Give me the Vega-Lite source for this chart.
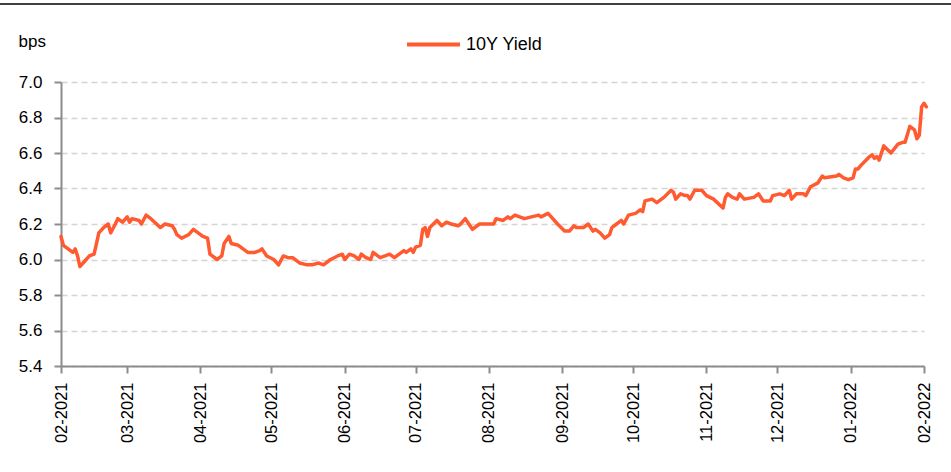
{
  "$schema": "https://vega.github.io/schema/vega-lite/v6.json",
  "autosize": {"type": "none"},
  "padding": {"left": 61, "top": 82, "right": 27, "bottom": 106},
  "width": 863,
  "height": 284,
  "background": "white",
  "config": {
    "view": {"stroke": null},
    "font": "'Liberation Sans', Arial, sans-serif",
    "axis": {"labelFont": "'Liberation Sans', Arial, sans-serif", "titleFont": "'Liberation Sans', Arial, sans-serif"},
    "legend": {"labelFont": "'Liberation Sans', Arial, sans-serif"}
  },
  "data": {"values": [
    {"date": "2021-02-01", "v": 6.13, "s": "10Y Yield"},
    {"date": "2021-02-02", "v": 6.08, "s": "10Y Yield"},
    {"date": "2021-02-03", "v": 6.07, "s": "10Y Yield"},
    {"date": "2021-02-06", "v": 6.04, "s": "10Y Yield"},
    {"date": "2021-02-07", "v": 6.06, "s": "10Y Yield"},
    {"date": "2021-02-08", "v": 6.02, "s": "10Y Yield"},
    {"date": "2021-02-09", "v": 5.96, "s": "10Y Yield"},
    {"date": "2021-02-11", "v": 5.99, "s": "10Y Yield"},
    {"date": "2021-02-13", "v": 6.02, "s": "10Y Yield"},
    {"date": "2021-02-15", "v": 6.03, "s": "10Y Yield"},
    {"date": "2021-02-16", "v": 6.09, "s": "10Y Yield"},
    {"date": "2021-02-17", "v": 6.15, "s": "10Y Yield"},
    {"date": "2021-02-19", "v": 6.18, "s": "10Y Yield"},
    {"date": "2021-02-21", "v": 6.20, "s": "10Y Yield"},
    {"date": "2021-02-22", "v": 6.15, "s": "10Y Yield"},
    {"date": "2021-02-24", "v": 6.20, "s": "10Y Yield"},
    {"date": "2021-02-25", "v": 6.23, "s": "10Y Yield"},
    {"date": "2021-02-27", "v": 6.21, "s": "10Y Yield"},
    {"date": "2021-03-01", "v": 6.24, "s": "10Y Yield"},
    {"date": "2021-03-02", "v": 6.21, "s": "10Y Yield"},
    {"date": "2021-03-03", "v": 6.23, "s": "10Y Yield"},
    {"date": "2021-03-06", "v": 6.22, "s": "10Y Yield"},
    {"date": "2021-03-07", "v": 6.20, "s": "10Y Yield"},
    {"date": "2021-03-09", "v": 6.25, "s": "10Y Yield"},
    {"date": "2021-03-11", "v": 6.23, "s": "10Y Yield"},
    {"date": "2021-03-15", "v": 6.18, "s": "10Y Yield"},
    {"date": "2021-03-17", "v": 6.20, "s": "10Y Yield"},
    {"date": "2021-03-20", "v": 6.19, "s": "10Y Yield"},
    {"date": "2021-03-21", "v": 6.17, "s": "10Y Yield"},
    {"date": "2021-03-22", "v": 6.14, "s": "10Y Yield"},
    {"date": "2021-03-24", "v": 6.12, "s": "10Y Yield"},
    {"date": "2021-03-27", "v": 6.14, "s": "10Y Yield"},
    {"date": "2021-03-29", "v": 6.17, "s": "10Y Yield"},
    {"date": "2021-03-31", "v": 6.15, "s": "10Y Yield"},
    {"date": "2021-04-02", "v": 6.13, "s": "10Y Yield"},
    {"date": "2021-04-04", "v": 6.12, "s": "10Y Yield"},
    {"date": "2021-04-05", "v": 6.03, "s": "10Y Yield"},
    {"date": "2021-04-08", "v": 6.00, "s": "10Y Yield"},
    {"date": "2021-04-10", "v": 6.02, "s": "10Y Yield"},
    {"date": "2021-04-11", "v": 6.09, "s": "10Y Yield"},
    {"date": "2021-04-13", "v": 6.13, "s": "10Y Yield"},
    {"date": "2021-04-14", "v": 6.09, "s": "10Y Yield"},
    {"date": "2021-04-17", "v": 6.08, "s": "10Y Yield"},
    {"date": "2021-04-21", "v": 6.04, "s": "10Y Yield"},
    {"date": "2021-04-24", "v": 6.04, "s": "10Y Yield"},
    {"date": "2021-04-26", "v": 6.05, "s": "10Y Yield"},
    {"date": "2021-04-27", "v": 6.06, "s": "10Y Yield"},
    {"date": "2021-04-29", "v": 6.02, "s": "10Y Yield"},
    {"date": "2021-05-02", "v": 6.00, "s": "10Y Yield"},
    {"date": "2021-05-04", "v": 5.97, "s": "10Y Yield"},
    {"date": "2021-05-06", "v": 6.02, "s": "10Y Yield"},
    {"date": "2021-05-08", "v": 6.01, "s": "10Y Yield"},
    {"date": "2021-05-10", "v": 6.01, "s": "10Y Yield"},
    {"date": "2021-05-13", "v": 5.98, "s": "10Y Yield"},
    {"date": "2021-05-16", "v": 5.97, "s": "10Y Yield"},
    {"date": "2021-05-18", "v": 5.97, "s": "10Y Yield"},
    {"date": "2021-05-21", "v": 5.98, "s": "10Y Yield"},
    {"date": "2021-05-23", "v": 5.97, "s": "10Y Yield"},
    {"date": "2021-05-26", "v": 6.00, "s": "10Y Yield"},
    {"date": "2021-05-29", "v": 6.02, "s": "10Y Yield"},
    {"date": "2021-05-31", "v": 6.03, "s": "10Y Yield"},
    {"date": "2021-06-01", "v": 6.00, "s": "10Y Yield"},
    {"date": "2021-06-03", "v": 6.03, "s": "10Y Yield"},
    {"date": "2021-06-05", "v": 6.02, "s": "10Y Yield"},
    {"date": "2021-06-07", "v": 6.00, "s": "10Y Yield"},
    {"date": "2021-06-08", "v": 6.03, "s": "10Y Yield"},
    {"date": "2021-06-10", "v": 6.01, "s": "10Y Yield"},
    {"date": "2021-06-12", "v": 6.00, "s": "10Y Yield"},
    {"date": "2021-06-13", "v": 6.04, "s": "10Y Yield"},
    {"date": "2021-06-16", "v": 6.01, "s": "10Y Yield"},
    {"date": "2021-06-20", "v": 6.03, "s": "10Y Yield"},
    {"date": "2021-06-22", "v": 6.01, "s": "10Y Yield"},
    {"date": "2021-06-26", "v": 6.05, "s": "10Y Yield"},
    {"date": "2021-06-27", "v": 6.04, "s": "10Y Yield"},
    {"date": "2021-06-29", "v": 6.06, "s": "10Y Yield"},
    {"date": "2021-06-30", "v": 6.04, "s": "10Y Yield"},
    {"date": "2021-07-01", "v": 6.07, "s": "10Y Yield"},
    {"date": "2021-07-03", "v": 6.08, "s": "10Y Yield"},
    {"date": "2021-07-04", "v": 6.17, "s": "10Y Yield"},
    {"date": "2021-07-05", "v": 6.18, "s": "10Y Yield"},
    {"date": "2021-07-06", "v": 6.13, "s": "10Y Yield"},
    {"date": "2021-07-07", "v": 6.18, "s": "10Y Yield"},
    {"date": "2021-07-10", "v": 6.22, "s": "10Y Yield"},
    {"date": "2021-07-12", "v": 6.19, "s": "10Y Yield"},
    {"date": "2021-07-14", "v": 6.21, "s": "10Y Yield"},
    {"date": "2021-07-16", "v": 6.20, "s": "10Y Yield"},
    {"date": "2021-07-19", "v": 6.19, "s": "10Y Yield"},
    {"date": "2021-07-20", "v": 6.20, "s": "10Y Yield"},
    {"date": "2021-07-22", "v": 6.23, "s": "10Y Yield"},
    {"date": "2021-07-25", "v": 6.17, "s": "10Y Yield"},
    {"date": "2021-07-28", "v": 6.20, "s": "10Y Yield"},
    {"date": "2021-07-31", "v": 6.20, "s": "10Y Yield"},
    {"date": "2021-08-03", "v": 6.20, "s": "10Y Yield"},
    {"date": "2021-08-04", "v": 6.23, "s": "10Y Yield"},
    {"date": "2021-08-07", "v": 6.22, "s": "10Y Yield"},
    {"date": "2021-08-09", "v": 6.24, "s": "10Y Yield"},
    {"date": "2021-08-10", "v": 6.23, "s": "10Y Yield"},
    {"date": "2021-08-12", "v": 6.25, "s": "10Y Yield"},
    {"date": "2021-08-16", "v": 6.23, "s": "10Y Yield"},
    {"date": "2021-08-22", "v": 6.25, "s": "10Y Yield"},
    {"date": "2021-08-23", "v": 6.24, "s": "10Y Yield"},
    {"date": "2021-08-26", "v": 6.26, "s": "10Y Yield"},
    {"date": "2021-08-28", "v": 6.23, "s": "10Y Yield"},
    {"date": "2021-08-30", "v": 6.20, "s": "10Y Yield"},
    {"date": "2021-09-02", "v": 6.16, "s": "10Y Yield"},
    {"date": "2021-09-04", "v": 6.16, "s": "10Y Yield"},
    {"date": "2021-09-06", "v": 6.19, "s": "10Y Yield"},
    {"date": "2021-09-07", "v": 6.18, "s": "10Y Yield"},
    {"date": "2021-09-10", "v": 6.18, "s": "10Y Yield"},
    {"date": "2021-09-12", "v": 6.20, "s": "10Y Yield"},
    {"date": "2021-09-14", "v": 6.16, "s": "10Y Yield"},
    {"date": "2021-09-15", "v": 6.17, "s": "10Y Yield"},
    {"date": "2021-09-17", "v": 6.15, "s": "10Y Yield"},
    {"date": "2021-09-19", "v": 6.12, "s": "10Y Yield"},
    {"date": "2021-09-21", "v": 6.14, "s": "10Y Yield"},
    {"date": "2021-09-22", "v": 6.18, "s": "10Y Yield"},
    {"date": "2021-09-24", "v": 6.20, "s": "10Y Yield"},
    {"date": "2021-09-26", "v": 6.22, "s": "10Y Yield"},
    {"date": "2021-09-27", "v": 6.20, "s": "10Y Yield"},
    {"date": "2021-09-29", "v": 6.25, "s": "10Y Yield"},
    {"date": "2021-10-02", "v": 6.26, "s": "10Y Yield"},
    {"date": "2021-10-03", "v": 6.27, "s": "10Y Yield"},
    {"date": "2021-10-04", "v": 6.28, "s": "10Y Yield"},
    {"date": "2021-10-05", "v": 6.27, "s": "10Y Yield"},
    {"date": "2021-10-06", "v": 6.33, "s": "10Y Yield"},
    {"date": "2021-10-09", "v": 6.34, "s": "10Y Yield"},
    {"date": "2021-10-11", "v": 6.32, "s": "10Y Yield"},
    {"date": "2021-10-14", "v": 6.35, "s": "10Y Yield"},
    {"date": "2021-10-17", "v": 6.39, "s": "10Y Yield"},
    {"date": "2021-10-18", "v": 6.38, "s": "10Y Yield"},
    {"date": "2021-10-19", "v": 6.34, "s": "10Y Yield"},
    {"date": "2021-10-21", "v": 6.37, "s": "10Y Yield"},
    {"date": "2021-10-23", "v": 6.36, "s": "10Y Yield"},
    {"date": "2021-10-24", "v": 6.36, "s": "10Y Yield"},
    {"date": "2021-10-25", "v": 6.34, "s": "10Y Yield"},
    {"date": "2021-10-27", "v": 6.39, "s": "10Y Yield"},
    {"date": "2021-10-30", "v": 6.39, "s": "10Y Yield"},
    {"date": "2021-11-01", "v": 6.36, "s": "10Y Yield"},
    {"date": "2021-11-04", "v": 6.34, "s": "10Y Yield"},
    {"date": "2021-11-08", "v": 6.29, "s": "10Y Yield"},
    {"date": "2021-11-09", "v": 6.35, "s": "10Y Yield"},
    {"date": "2021-11-10", "v": 6.37, "s": "10Y Yield"},
    {"date": "2021-11-12", "v": 6.35, "s": "10Y Yield"},
    {"date": "2021-11-14", "v": 6.34, "s": "10Y Yield"},
    {"date": "2021-11-15", "v": 6.37, "s": "10Y Yield"},
    {"date": "2021-11-17", "v": 6.34, "s": "10Y Yield"},
    {"date": "2021-11-21", "v": 6.35, "s": "10Y Yield"},
    {"date": "2021-11-23", "v": 6.37, "s": "10Y Yield"},
    {"date": "2021-11-25", "v": 6.33, "s": "10Y Yield"},
    {"date": "2021-11-28", "v": 6.33, "s": "10Y Yield"},
    {"date": "2021-11-29", "v": 6.36, "s": "10Y Yield"},
    {"date": "2021-12-02", "v": 6.37, "s": "10Y Yield"},
    {"date": "2021-12-04", "v": 6.36, "s": "10Y Yield"},
    {"date": "2021-12-06", "v": 6.39, "s": "10Y Yield"},
    {"date": "2021-12-07", "v": 6.34, "s": "10Y Yield"},
    {"date": "2021-12-09", "v": 6.37, "s": "10Y Yield"},
    {"date": "2021-12-12", "v": 6.37, "s": "10Y Yield"},
    {"date": "2021-12-13", "v": 6.36, "s": "10Y Yield"},
    {"date": "2021-12-15", "v": 6.41, "s": "10Y Yield"},
    {"date": "2021-12-18", "v": 6.43, "s": "10Y Yield"},
    {"date": "2021-12-20", "v": 6.47, "s": "10Y Yield"},
    {"date": "2021-12-21", "v": 6.46, "s": "10Y Yield"},
    {"date": "2021-12-26", "v": 6.47, "s": "10Y Yield"},
    {"date": "2021-12-27", "v": 6.48, "s": "10Y Yield"},
    {"date": "2021-12-29", "v": 6.46, "s": "10Y Yield"},
    {"date": "2021-12-31", "v": 6.45, "s": "10Y Yield"},
    {"date": "2022-01-02", "v": 6.46, "s": "10Y Yield"},
    {"date": "2022-01-03", "v": 6.51, "s": "10Y Yield"},
    {"date": "2022-01-04", "v": 6.51, "s": "10Y Yield"},
    {"date": "2022-01-06", "v": 6.54, "s": "10Y Yield"},
    {"date": "2022-01-09", "v": 6.58, "s": "10Y Yield"},
    {"date": "2022-01-10", "v": 6.59, "s": "10Y Yield"},
    {"date": "2022-01-11", "v": 6.57, "s": "10Y Yield"},
    {"date": "2022-01-12", "v": 6.58, "s": "10Y Yield"},
    {"date": "2022-01-13", "v": 6.56, "s": "10Y Yield"},
    {"date": "2022-01-15", "v": 6.64, "s": "10Y Yield"},
    {"date": "2022-01-18", "v": 6.60, "s": "10Y Yield"},
    {"date": "2022-01-21", "v": 6.65, "s": "10Y Yield"},
    {"date": "2022-01-23", "v": 6.66, "s": "10Y Yield"},
    {"date": "2022-01-24", "v": 6.66, "s": "10Y Yield"},
    {"date": "2022-01-26", "v": 6.75, "s": "10Y Yield"},
    {"date": "2022-01-28", "v": 6.73, "s": "10Y Yield"},
    {"date": "2022-01-29", "v": 6.68, "s": "10Y Yield"},
    {"date": "2022-01-30", "v": 6.70, "s": "10Y Yield"},
    {"date": "2022-01-31", "v": 6.86, "s": "10Y Yield"},
    {"date": "2022-02-01", "v": 6.88, "s": "10Y Yield"},
    {"date": "2022-02-02", "v": 6.86, "s": "10Y Yield"}
  ]},
  "layer": [
    {
      "mark": {"type": "line", "strokeWidth": 3.5, "strokeJoin": "round", "strokeCap": "round", "clip": false},
      "encoding": {
        "x": {
          "field": "date", "type": "temporal",
          "scale": {"domain": ["2021-02-01", "2022-02-01"]},
          "axis": {
            "title": null,
            "format": "%m-%Y",
            "tickCount": {"interval": "month", "step": 1},
            "labelAngle": -90,
            "labelFontSize": 16.5,
            "labelColor": "#000000",
            "labelPadding": 9,
            "tickSize": 7,
            "tickColor": "#8c8c8c",
            "tickWidth": 2,
            "domainColor": "#8c8c8c",
            "domainWidth": 2,
            "grid": false,
            "labelFlush": false,
            "labelOverlap": false
          }
        },
        "y": {
          "field": "v", "type": "quantitative",
          "scale": {"domain": [5.4, 7.0], "zero": false, "nice": false},
          "axis": {
            "title": "bps",
            "titleAngle": 0,
            "titleX": -43,
            "titleY": -41,
            "titleAlign": "left",
            "titleBaseline": "middle",
            "titleFontSize": 17,
            "titleFontWeight": "normal",
            "titleColor": "#000000",
            "values": [5.4, 5.6, 5.8, 6.0, 6.2, 6.4, 6.6, 6.8, 7.0],
            "tickCount": 20,
            "format": ".1f",
            "labelFontSize": 17,
            "labelColor": "#000000",
            "labelPadding": 12,
            "labelOverlap": false,
            "labelFlush": false,
            "tickSize": 7,
            "tickColor": "#8c8c8c",
            "tickWidth": 2,
            "domainColor": "#8c8c8c",
            "domainWidth": 2,
            "grid": true,
            "gridColor": "#d4d4d4",
            "gridDash": [6, 4],
            "gridWidth": 1.5
          }
        },
        "color": {
          "field": "s", "type": "nominal",
          "scale": {"domain": ["10Y Yield"], "range": ["#ff5a30"]},
          "legend": {
            "title": null,
            "orient": "none",
            "legendX": 344,
            "legendY": -66,
            "symbolType": "stroke",
            "symbolSize": 2800,
            "symbolStrokeWidth": 4,
            "labelFontSize": 18,
            "labelColor": "#000000",
            "labelOffset": 4
          }
        }
      }
    },
    {
      "data": {"values": [{"a": 1}]},
      "mark": {"type": "rule", "color": "#000000", "strokeWidth": 1.5, "clip": false},
      "encoding": {
        "x": {"datum": {"year": 2021, "month": 1, "date": 1}, "type": "temporal"},
        "x2": {"datum": {"year": 2022, "month": 3, "date": 31}},
        "y": {"datum": 7.44, "type": "quantitative"}
      }
    }
  ]
}
